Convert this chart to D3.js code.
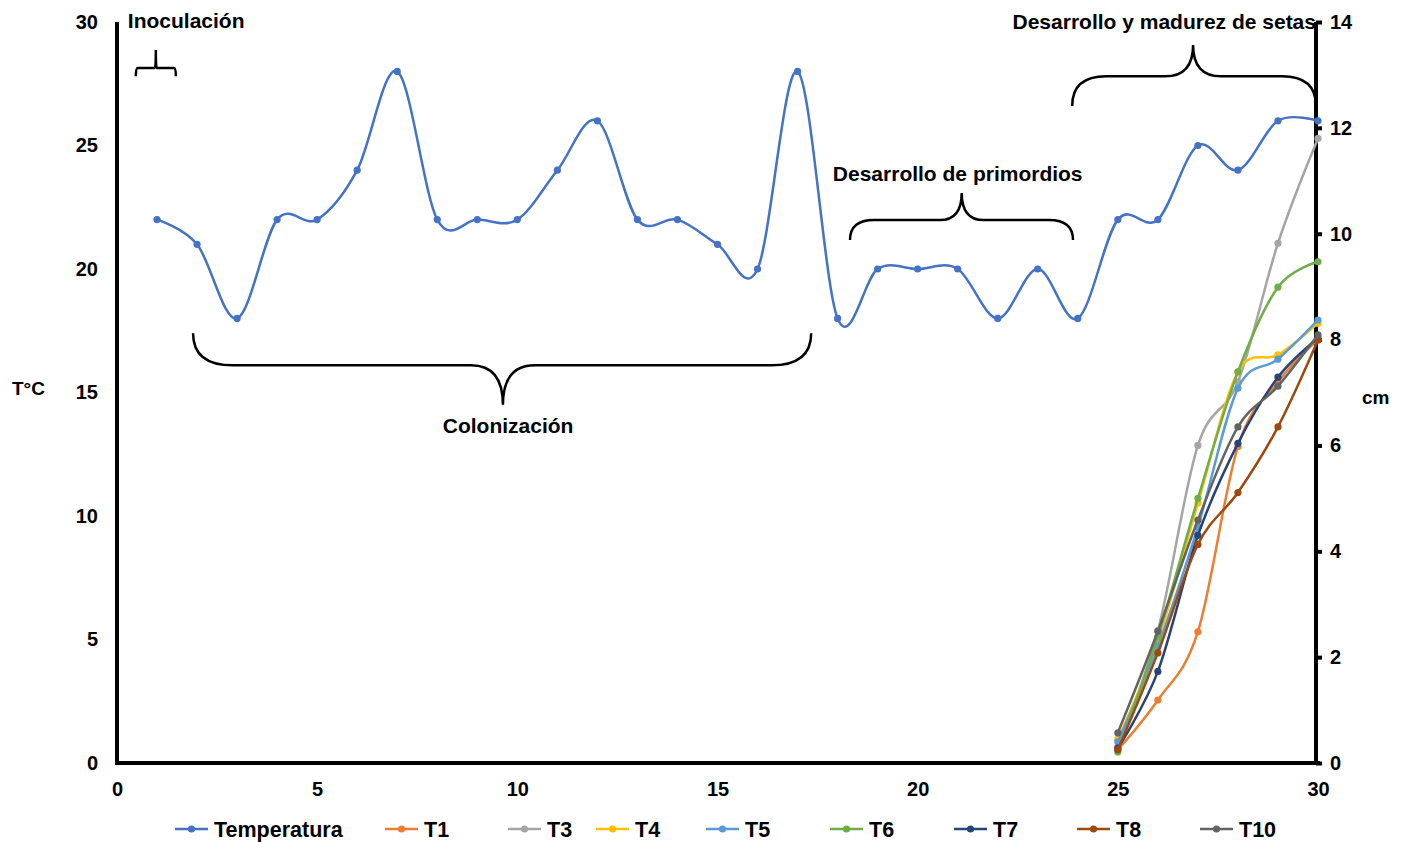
<!DOCTYPE html>
<html>
<head>
<meta charset="utf-8">
<script src="https://cdn.jsdelivr.net/npm/d3@7/dist/d3.min.js"></script>
<style>
  html, body { margin: 0; padding: 0; background: #fff; }
  svg { display: block; }
  text { font-family: "Liberation Sans", Arial, sans-serif; font-weight: bold; fill: #000; }
</style>
</head>
<body>
<svg id="chart" width="1405" height="842"></svg>
<script>
// Days of the cultivation cycle
const days = d3.range(1, 31);
// Daily temperature (°C)
const temperatura = [22, 21, 18, 22, 22, 24, 28, 22, 22, 22, 24, 26, 22, 22, 21, 20, 28, 18, 20, 20, 20, 18, 20, 18, 22, 22, 25, 24, 26, 26];

// Mushroom growth (cm), days 25–30
const growthDays = [25, 26, 27, 28, 29, 30];
const T1  = [0.25, 1.19, 2.48, 5.98, 7.20, 8.00];
const T3  = [0.30, 2.50, 6.00, 7.20, 9.82, 11.80];
const T4  = [0.45, 2.30, 4.91, 7.39, 7.71, 8.31];
const T5  = [0.40, 2.20, 4.46, 7.08, 7.63, 8.37];
const T6  = [0.21, 2.39, 5.00, 7.39, 8.99, 9.47];
const T7  = [0.28, 1.73, 4.30, 6.04, 7.29, 8.03];
const T8  = [0.25, 2.08, 4.13, 5.11, 6.35, 7.99];
const T10 = [0.57, 2.49, 4.59, 6.35, 7.12, 8.09];

const growthSeries = [
  { name: "T1",  values: T1,  color: "#ED7D31" },
  { name: "T3",  values: T3,  color: "#A5A5A5" },
  { name: "T4",  values: T4,  color: "#FFC000" },
  { name: "T5",  values: T5,  color: "#5B9BD5" },
  { name: "T6",  values: T6,  color: "#70AD47" },
  { name: "T7",  values: T7,  color: "#264478" },
  { name: "T8",  values: T8,  color: "#9E480E" },
  { name: "T10", values: T10, color: "#636363" }
];
const tempColor = "#4472C4";

// Axis ticks
const xTicks = [0, 5, 10, 15, 20, 25, 30];
const yLeftTicks = [0, 5, 10, 15, 20, 25, 30];
const yRightTicks = [0, 2, 4, 6, 8, 10, 12, 14];

// Stage annotations (braces), in data units of day / temperature
const stages = [
  { label: "Inoculación", x0: 0.47, x1: 1.47, xc: 0.97, yEnd: 27.8, yMid: 28.14, yTip: 28.87, rEnd: 2, rMid: 1, labelX: 0.27, labelY: 30.05, anchor: "start" },
  { label: "Colonización", x0: 1.9, x1: 17.34, xc: 9.64, yEnd: 17.4, yMid: 16.1, yTip: 14.5, rEnd: 40, rMid: 32, labelX: 9.77, labelY: 13.65, anchor: "middle" },
  { label: "Desarrollo de primordios", x0: 18.31, x1: 23.88, xc: 21.1, yEnd: 21.17, yMid: 21.98, yTip: 23.08, rEnd: 24, rMid: 22, labelX: 21.0, labelY: 23.85, anchor: "middle" },
  { label: "Desarrollo y madurez de setas", x0: 23.86, x1: 29.95, xc: 26.88, yEnd: 26.6, yMid: 27.8, yTip: 29.07, rEnd: 34, rMid: 28, labelX: 29.95, labelY: 30.0, anchor: "end" }
];

const svg = d3.select("#chart");
const x = d3.scaleLinear().domain([0, 30]).range([117, 1318]);
const yL = d3.scaleLinear().domain([0, 30]).range([763, 22]);
const yR = d3.scaleLinear().domain([0, 14]).range([763, 22]);

// Axes
const axisBottom = d3.axisBottom(x).tickValues(xTicks).tickSize(0).tickPadding(19);
const axisLeft = d3.axisLeft(yL).tickValues(yLeftTicks).tickSize(0).tickPadding(19);
const axisRight = d3.axisRight(yR).tickValues(yRightTicks).tickSize(6).tickSizeOuter(0).tickPadding(8);

function styleAxis(g) {
  g.select(".domain").attr("stroke", "#000").attr("stroke-width", 4);
  g.selectAll(".tick line").attr("stroke", "#000").attr("stroke-width", 4);
  g.selectAll("text").style("font-size", "20px").attr("fill", "#000");
}

svg.append("g").attr("transform", "translate(0,763)").call(axisBottom).call(styleAxis)
  .call(g => g.select(".domain").attr("d", `M${x(0) - 2},0H${x(30) + 2}`));
svg.append("g").attr("transform", "translate(117,0)").call(axisLeft).call(styleAxis)
  .call(g => g.select(".domain").attr("d", `M0,${yL(30)}V${yL(0) + 2}`));
svg.append("g").attr("transform", "translate(1316,0)").call(axisRight).call(styleAxis)
  .call(g => g.select(".domain").attr("d", `M0,${yR(14)}V${yR(0) + 2}`));

// Axis titles
svg.append("text").attr("x", 12).attr("y", 395).style("font-size", "19px").text("T°C");
svg.append("text").attr("x", 1362).attr("y", 404).style("font-size", "19px").text("cm");

// Brace annotations
const braceG = svg.append("g").attr("fill", "none").attr("stroke", "#000").attr("stroke-width", 2.5);
stages.forEach(s => {
  const X0 = x(s.x0), X1 = x(s.x1), XC = x(s.xc);
  const YE = yL(s.yEnd), YM = yL(s.yMid), YT = yL(s.yTip);
  const p = d3.path();
  p.moveTo(X0, YE);
  p.quadraticCurveTo(X0, YM, X0 + s.rEnd, YM);
  p.lineTo(XC - s.rMid, YM);
  p.quadraticCurveTo(XC, YM, XC, YT);
  p.quadraticCurveTo(XC, YM, XC + s.rMid, YM);
  p.lineTo(X1 - s.rEnd, YM);
  p.quadraticCurveTo(X1, YM, X1, YE);
  braceG.append("path").attr("d", p.toString());
  svg.append("text")
    .attr("x", x(s.labelX)).attr("y", yL(s.labelY))
    .attr("text-anchor", s.anchor)
    .attr("dy", "0.35em")
    .style("font-size", "21px")
    .text(s.label);
});

// Temperature series (left axis)
const tempData = days.map((d, i) => [d, temperatura[i]]);
const lineT = d3.line().x(d => x(d[0])).y(d => yL(d[1])).curve(d3.curveCatmullRom.alpha(0));
svg.append("path").datum(tempData)
  .attr("d", lineT).attr("fill", "none").attr("stroke", tempColor).attr("stroke-width", 2.5);
svg.append("g").selectAll("circle").data(tempData).join("circle")
  .attr("cx", d => x(d[0])).attr("cy", d => yL(d[1])).attr("r", 3.6).attr("fill", tempColor);

// Growth series (right axis)
const lineG = d3.line().x(d => x(d[0])).y(d => yR(d[1])).curve(d3.curveCatmullRom.alpha(0));
growthSeries.forEach(s => {
  const data = growthDays.map((d, i) => [d, s.values[i]]);
  svg.append("path").datum(data)
    .attr("d", lineG).attr("fill", "none").attr("stroke", s.color).attr("stroke-width", 2.5);
  svg.append("g").selectAll("circle").data(data).join("circle")
    .attr("cx", d => x(d[0])).attr("cy", d => yR(d[1])).attr("r", 3.6).attr("fill", s.color);
});

// Legend
const legendItems = [{ name: "Temperatura", color: tempColor }].concat(growthSeries);
const legendX = [175, 385, 508, 596, 706, 830, 954, 1077, 1200];
const legend = svg.append("g").attr("transform", "translate(0,829)");
legendItems.forEach((item, i) => {
  const g = legend.append("g").attr("transform", `translate(${legendX[i]},0)`);
  g.append("line").attr("x1", 0).attr("x2", 33).attr("y1", 0).attr("y2", 0)
    .attr("stroke", item.color).attr("stroke-width", 2.5);
  g.append("circle").attr("cx", 16.5).attr("cy", 0).attr("r", 3.6).attr("fill", item.color);
  g.append("text").attr("x", 39).attr("y", 0).attr("dy", "0.35em")
    .style("font-size", "21.5px").text(item.name);
});
</script>
</body>
</html>
